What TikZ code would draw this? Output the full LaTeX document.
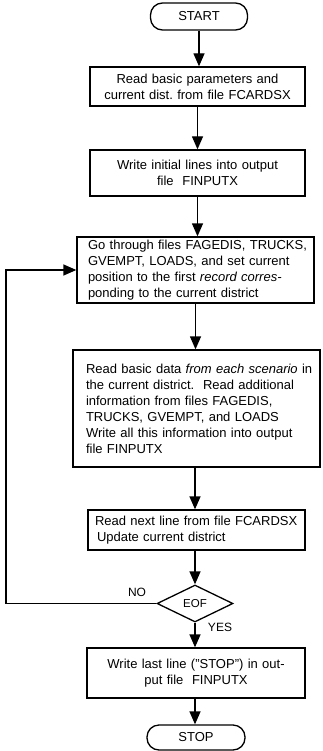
\documentclass[tikz,border=0pt]{standalone}
\usepackage{fontspec}
\setmainfont{Liberation Sans}
\usetikzlibrary{shapes.geometric,arrows.meta}

% one unbreakable line of box text, with a left indent
\newcommand{\boxline}[2][0pt]{\hspace*{#1}\mbox{#2}}

\tikzset{
  base/.style={draw, line width=1.3pt, inner sep=0pt, font=\fontsize{13}{16}\selectfont},
  terminal/.style={base, rounded corners=12pt, minimum height=#1, align=center},
  procbox/.style={base, minimum height=#1},
  decision/.style={base, diamond, minimum width=76pt, minimum height=37pt,
                   font=\fontsize{11.5}{12}\selectfont},
  flow/.style={line width=1.3pt, -{Triangle[length=13pt,width=11pt]}},
  lbl/.style={font=\fontsize{12}{14}\selectfont, inner sep=0pt}
}

\begin{document}
\begin{tikzpicture}[x=1pt,y=-1pt]
  \useasboundingbox (0,0) rectangle (322,751);

  % terminals and process boxes
  \node[terminal=27pt, minimum width=97pt] (start) at (199,16.5) {START};

  \node[procbox=39pt, text width=215pt, align=center] (read) at (197.5,86.5)
    {\boxline{Read basic parameters and}\\ \boxline{current dist.\ from file FCARDSX}};

  \node[procbox=46pt, text width=215pt, align=center] (init) at (197.5,173)
    {\boxline{Write initial lines into output}\\ \boxline{file\ \ FINPUTX}};

  \node[procbox=66pt, text width=237pt, align=left] (seek) at (195.5,270)
    {\boxline[11pt]{Go through files FAGEDIS, TRUCKS,}\\
     \boxline[11pt]{GVEMPT, LOADS, and set current}\\
     \boxline[11pt]{position to the first \textit{record corres-}}\\
     \boxline[11pt]{ponding to the current district}};

  \node[procbox=117pt, text width=247pt, align=left] (scen) at (196.5,408.5)
    {\boxline[13pt]{Read basic data \textit{from each scenario} in}\\
     \boxline[13pt]{the current district.\ \ Read additional}\\
     \boxline[13pt]{information from files FAGEDIS,}\\
     \boxline[13pt]{TRUCKS, GVEMPT, and LOADS}\\
     \boxline[13pt]{Write all this information into output}\\
     \boxline[13pt]{file FINPUTX}\\[8pt]};

  \node[procbox=40pt, text width=217pt, align=left] (next) at (196.5,530)
    {\boxline[7pt]{Read next line from file FCARDSX}\\
     \boxline[9pt]{Update current district}};

  \node[decision] (eof) at (195,603.5) {EOF};

  \node[procbox=50pt, text width=218pt, align=center] (last) at (196,673)
    {\boxline{Write last line ("STOP") in out-}\\ \boxline{put file\ \ FINPUTX}};

  \node[terminal=25pt, minimum width=98pt] (stop) at (196,737.5) {STOP};

  % branch labels
  \node[lbl] (no) at (137,592) {NO};
  \node[lbl] (yes) at (220,627) {YES};

  % main flow
  \draw[flow] (start.south) -- (start.south |- read.north);
  \draw[flow] (read.south) -- (read.south |- init.north);
  \draw[flow] (init.south) -- (init.south |- seek.north);
  \draw[flow] (seek.south) -- (seek.south |- scen.north);
  \draw[flow] (scen.south -| eof) -- (eof |- next.north);
  \draw[flow] (next.south -| eof) -- (eof.north);
  \draw[flow] (eof.south) -- (eof |- last.north);
  \draw[flow] (last.south -| eof) -- (eof |- stop.north);

  % loop back on NO
  \coordinate (back) at (6,603.5);
  \draw[flow] (eof.west) -- (back) |- (seek.west);
\end{tikzpicture}
\end{document}
